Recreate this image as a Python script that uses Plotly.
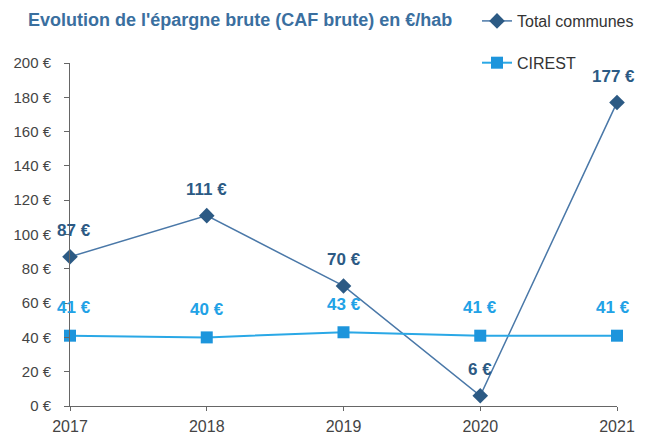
import plotly.graph_objects as go

years = [2017, 2018, 2019, 2020, 2021]
total_communes = [87, 111, 70, 6, 177]
cirest = [41, 40, 43, 41, 41]
y_ticks = [0, 20, 40, 60, 80, 100, 120, 140, 160, 180, 200]
y_tick_labels = [f"{v} €" for v in y_ticks]

FONT = "Liberation Sans, Arial, sans-serif"
DARK = "#2c5a84"
LIGHT = "#22a2e6"

fig = go.Figure()
fig.add_trace(go.Scatter(
    x=years, y=total_communes, name="Total communes",
    mode="lines+markers",
    line=dict(color="#4a78a8", width=1.5),
    marker=dict(symbol="diamond", size=12, color=DARK),
    cliponaxis=False, legendgroup="a",
))
fig.add_trace(go.Scatter(
    x=years, y=cirest, name="CIREST",
    mode="lines+markers",
    line=dict(color="#2aa8e6", width=2),
    marker=dict(symbol="square", size=12, color="#1d95dc"),
    cliponaxis=False, legendgroup="b",
))

annotations = []
for series, color, ysh in ((total_communes, DARK, 26), (cirest, LIGHT, 28)):
    for i, (x, v) in enumerate(zip(years, series)):
        xsh = 4 if i == 0 else (-4 if i == len(years) - 1 else 0)
        annotations.append(dict(
            x=x, y=v, xref="x", yref="y", text=f"{v} €", showarrow=False,
            xshift=xsh, yshift=ysh, xanchor="center", yanchor="middle",
            font=dict(family=FONT, size=17, color=color, weight="bold"),
        ))

fig.update_layout(
    width=654, height=443,
    margin=dict(l=62, r=45, t=55, b=45, autoexpand=False),
    paper_bgcolor="white", plot_bgcolor="white",
    font=dict(family=FONT, size=15, color="#444444"),
    title=dict(text="Evolution de l'épargne brute (CAF brute) en €/hab",
               x=20/654, xanchor="left", y=1-12/443, yanchor="middle",
               font=dict(family=FONT, size=18, color="#3a6f9f", weight="bold")),
    showlegend=True,
    legend=dict(x=469/654, xref="container", y=1+59/343, yref="paper", xanchor="left", yanchor="top",
                tracegroupgap=18, font=dict(family=FONT, size=16, color="#333333"),
                bgcolor="rgba(0,0,0,0)"),
    annotations=annotations,
    xaxis=dict(range=[2017, 2021], tickvals=years, ticktext=[str(y) for y in years],
               showline=True, linecolor="#666666", linewidth=1, showgrid=False, zeroline=False,
               ticks="outside", ticklen=4, tickcolor="#666666", ticklabelstandoff=2,
               tickfont=dict(family=FONT, size=16, color="#444444")),
    yaxis=dict(range=[0, 200], tickvals=y_ticks, ticktext=y_tick_labels,
               showline=True, linecolor="#666666", linewidth=1, showgrid=False, zeroline=False,
               ticks="outside", ticklen=5, tickcolor="#666666", ticklabelstandoff=10,
               tickfont=dict(family=FONT, size=15, color="#444444")),
)

fig.write_html("out.html")
